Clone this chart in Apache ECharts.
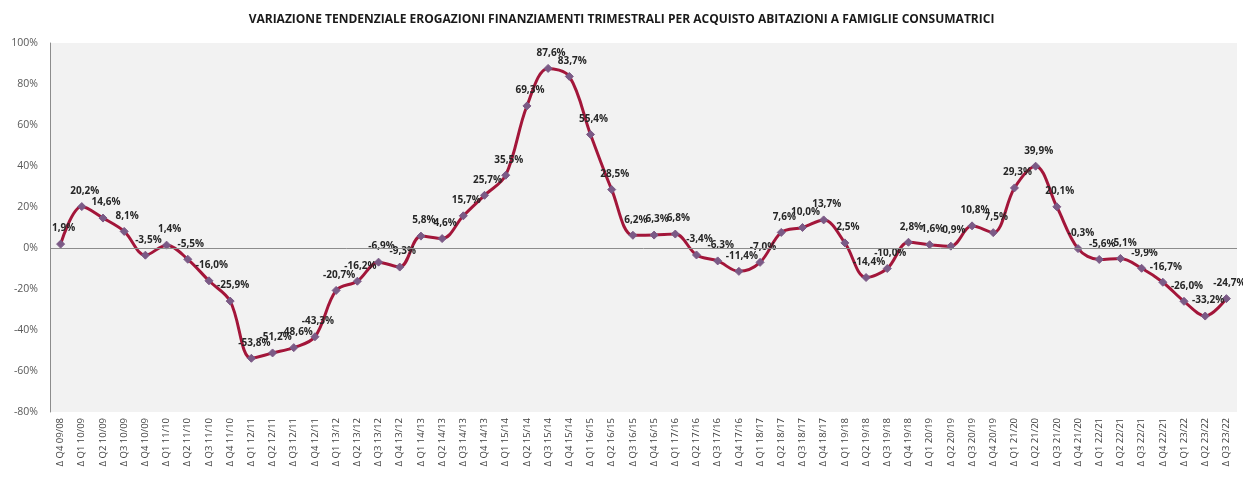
<!DOCTYPE html>
<html>
<head>
<meta charset="utf-8">
<script src="https://cdn.jsdelivr.net/npm/echarts@6/dist/echarts.min.js"></script>
<style>
html,body{margin:0;padding:0;background:#fff;}
#main{width:1243px;height:479px;}
</style>
</head>
<body>
<div id="main"></div>
<script>
//dati del grafico
var titolo = "VARIAZIONE TENDENZIALE EROGAZIONI FINANZIAMENTI TRIMESTRALI PER ACQUISTO ABITAZIONI A FAMIGLIE CONSUMATRICI";
var trimestri = [
	"Δ Q4 09/08","Δ Q1 10/09","Δ Q2 10/09","Δ Q3 10/09","Δ Q4 10/09",
	"Δ Q1 11/10","Δ Q2 11/10","Δ Q3 11/10","Δ Q4 11/10",
	"Δ Q1 12/11","Δ Q2 12/11","Δ Q3 12/11","Δ Q4 12/11",
	"Δ Q1 13/12","Δ Q2 13/12","Δ Q3 13/12","Δ Q4 13/12",
	"Δ Q1 14/13","Δ Q2 14/13","Δ Q3 14/13","Δ Q4 14/13",
	"Δ Q1 15/14","Δ Q2 15/14","Δ Q3 15/14","Δ Q4 15/14",
	"Δ Q1 16/15","Δ Q2 16/15","Δ Q3 16/15","Δ Q4 16/15",
	"Δ Q1 17/16","Δ Q2 17/16","Δ Q3 17/16","Δ Q4 17/16",
	"Δ Q1 18/17","Δ Q2 18/17","Δ Q3 18/17","Δ Q4 18/17",
	"Δ Q1 19/18","Δ Q2 19/18","Δ Q3 19/18","Δ Q4 19/18",
	"Δ Q1 20/19","Δ Q2 20/19","Δ Q3 20/19","Δ Q4 20/19",
	"Δ Q1 21/20","Δ Q2 21/20","Δ Q3 21/20","Δ Q4 21/20",
	"Δ Q1 22/21","Δ Q2 22/21","Δ Q3 22/21","Δ Q4 22/21",
	"Δ Q1 23/22","Δ Q2 23/22","Δ Q3 23/22"
];
var variazioni = [
	1.9, 20.2, 14.6, 8.1, -3.5,
	1.4, -5.5, -16.0, -25.9,
	-53.8, -51.2, -48.6, -43.3,
	-20.7, -16.2, -6.9, -9.3,
	5.8, 4.6, 15.7, 25.7,
	35.5, 69.3, 87.6, 83.7,
	55.4, 28.5, 6.2, 6.3,
	6.8, -3.4, -6.3, -11.4,
	-7.0, 7.6, 10.0, 13.7,
	2.5, -14.4, -10.0, 2.8,
	1.6, 0.9, 10.8, 7.5,
	29.3, 39.9, 20.1, -0.3,
	-5.6, -5.1, -9.9, -16.7,
	-26.0, -33.2, -24.7
];
var asseY = {min:-80, max:100, step:20};

var myChart = echarts.init(document.getElementById('main'));

var option = {
	backgroundColor:'#ffffff',
	animation:false,
	title:{
		text:titolo,
		left:'center',
		top:9,
		textStyle:{fontFamily:'Open Sans',fontSize:12,fontWeight:'bold',color:'#1a1a1a'}
	},
	grid:{left:50,right:6,top:43,bottom:67,show:true,backgroundColor:'#f2f2f2',borderWidth:0},
	xAxis:{
		type:'category',
		data:trimestri,
		boundaryGap:true,
		axisLine:{show:false},
		axisTick:{show:false},
		axisLabel:{rotate:90,fontFamily:'Open Sans',fontSize:9.5,color:'#404040',margin:6,interval:0}
	},
	yAxis:{
		type:'value',
		min:asseY.min,
		max:asseY.max,
		interval:asseY.step,
		axisLine:{show:true,lineStyle:{color:'#8c8c8c',width:1}},
		axisTick:{show:false},
		splitLine:{show:false},
		axisLabel:{
			fontFamily:'Open Sans',fontSize:10.5,color:'#595959',margin:12,
			formatter:function(v){return v+'%';}
		}
	},
	series:[{
		type:'line',
		data:variazioni,
		smooth:0.35,
		symbol:'diamond',
		symbolSize:8,
		lineStyle:{color:'#a3163a',width:3},
		itemStyle:{color:'#7b5a86',borderColor:'#7b5a86'},
		label:{
			show:true,
			position:'top',
			distance:6,
			offset:[3,0],
			fontFamily:'Open Sans',
			fontSize:10,
			fontWeight:'bold',
			color:'#262626',
			formatter:function(p){return p.value.toFixed(1).replace('.',',')+'%';}
		},
		markLine:{
			silent:true,
			symbol:'none',
			label:{show:false},
			lineStyle:{color:'#8c8c8c',width:1,type:'solid'},
			data:[{yAxis:0}]
		},
		z:3
	}]
};

myChart.setOption(option);
</script>
</body>
</html>
